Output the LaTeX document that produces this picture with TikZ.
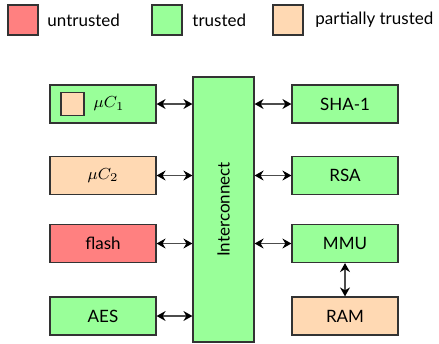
\documentclass[tikz,border=0pt]{standalone}
\usepackage{fontspec}
\setmainfont{Lato}
\usetikzlibrary{arrows.meta}
\definecolor{untrustedc}{HTML}{FF8080}
\definecolor{trustedc}{HTML}{99FF99}
\definecolor{partialc}{HTML}{FFD9B3}
\tikzset{
  txt/.style={font=\fontsize{8.5}{10}\selectfont},
  blk/.style={txt, draw=black!80, line width=0.6pt, minimum width=53pt, minimum height=19pt, inner sep=0pt},
  legsq/.style={draw=black!80, line width=0.6pt, minimum size=15pt, inner sep=0pt},
  legtxt/.style={txt, anchor=west, inner sep=0pt},
  link/.style={draw=black!70, line width=0.7pt, {Stealth[length=4.5pt,width=5pt,inset=1.5pt,color=black]}-{Stealth[length=4.5pt,width=5pt,inset=1.5pt,color=black]}}
}
\begin{document}
\begin{tikzpicture}[x=0.5pt, y=-0.5pt]
\useasboundingbox (0,0) rectangle (439,343);
% legend
\node[legsq, fill=untrustedc] (lu) at (23,20) {};
\node[legtxt] (lut) at (47,20) {untrusted};
\node[legsq, fill=trustedc] (lt) at (167,20) {};
\node[legtxt] (ltt) at (192,20) {trusted};
\node[legsq, fill=partialc] (lp) at (288,20) {};
\node[legtxt] (lpt) at (315,20) {partially trusted};
% interconnect bus
\node[blk, fill=trustedc, minimum width=30.5pt, minimum height=132.5pt] (ic) at (223.5,209.5) {};
\node[txt, rotate=90] (ict) at (ic.center) {Interconnect};
% left column
\node[blk, fill=trustedc] (mc1) at (103,104) {};
\node[legsq, fill=partialc, minimum size=11.5pt] (mc1in) at (72.5,104) {};
\node[txt] (mc1t) at (109,104) {$\mu C_1$};
\node[blk, fill=partialc] (mc2) at (103,175.5) {$\mu C_2$};
\node[blk, fill=untrustedc] (fl) at (103,243.5) {flash};
\node[blk, fill=trustedc] (aes) at (103,316) {AES};
% right column
\node[blk, fill=trustedc] (sha) at (345,104) {SHA-1};
\node[blk, fill=trustedc] (rsa) at (345,175.5) {RSA};
\node[blk, fill=trustedc] (mmu) at (345,243.5) {MMU};
\node[blk, fill=partialc] (ram) at (345,316) {RAM};
% links
\foreach \n in {mc1,mc2,fl,aes}
  \draw[link] (\n.east) -- (\n.east -| ic.west);
\foreach \n in {sha,rsa,mmu}
  \draw[link] (\n.west) -- (\n.west -| ic.east);
\draw[link] (mmu.south) -- (ram.north);
\end{tikzpicture}
\end{document}
